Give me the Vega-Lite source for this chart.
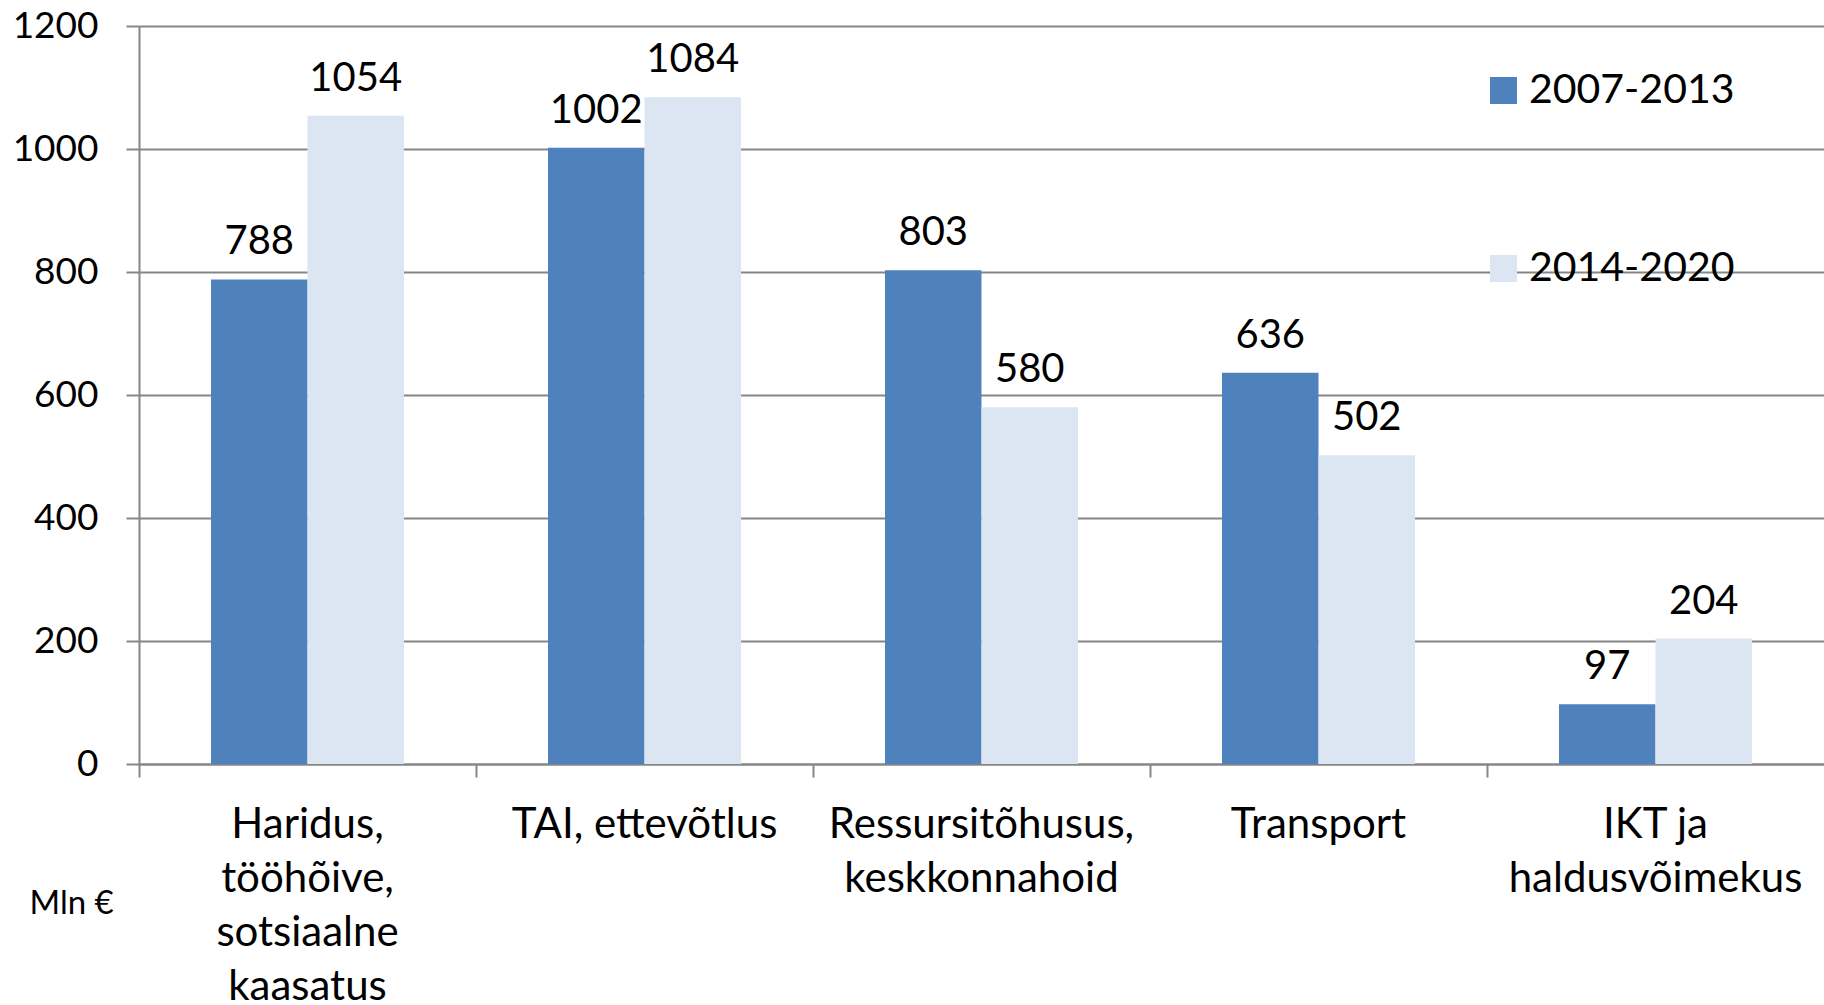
{
  "$schema": "https://vega.github.io/schema/vega-lite/v6.json",
  "width": 1685,
  "height": 738,
  "autosize": {"type": "none"},
  "padding": {"left": 139, "top": 26, "right": 0, "bottom": 241},
  "background": "white",
  "config": {
    "font": "Lato",
    "view": {"stroke": null}
  },
  "data": {
    "values": [
      {"cat": "Haridus,|tööhõive,|sotsiaalne|kaasatus", "period": "2007-2013", "value": 788},
      {"cat": "Haridus,|tööhõive,|sotsiaalne|kaasatus", "period": "2014-2020", "value": 1054},
      {"cat": "TAI, ettevõtlus", "period": "2007-2013", "value": 1002},
      {"cat": "TAI, ettevõtlus", "period": "2014-2020", "value": 1084},
      {"cat": "Ressursitõhusus,|keskkonnahoid", "period": "2007-2013", "value": 803},
      {"cat": "Ressursitõhusus,|keskkonnahoid", "period": "2014-2020", "value": 580},
      {"cat": "Transport", "period": "2007-2013", "value": 636},
      {"cat": "Transport", "period": "2014-2020", "value": 502},
      {"cat": "IKT ja|haldusvõimekus", "period": "2007-2013", "value": 97},
      {"cat": "IKT ja|haldusvõimekus", "period": "2014-2020", "value": 204}
    ]
  },
  "encoding": {
    "x": {
      "field": "cat",
      "type": "nominal",
      "sort": null,
      "scale": {"paddingInner": 0, "paddingOuter": 0},
      "axis": {
        "title": null,
        "labelExpr": "split(datum.label, '|')",
        "labelAngle": 0,
        "labelFont": "Lato",
        "labelFontSize": 42,
        "labelColor": "black",
        "labelLineHeight": 54,
        "labelLimit": 0,
        "labelPadding": 27,
        "bandPosition": 0,
        "tickSize": 13,
        "tickColor": "#868686",
        "tickWidth": 2,
        "domainColor": "#868686",
        "domainWidth": 2,
        "grid": false
      }
    },
    "xOffset": {"field": "period", "type": "nominal", "scale": {"paddingInner": 0, "paddingOuter": 0.746}},
    "y": {
      "field": "value",
      "type": "quantitative",
      "scale": {"domain": [0, 1200], "nice": false},
      "axis": {
        "title": "Mln €",
        "titleAngle": 0,
        "titleX": -110,
        "titleY": 887,
        "titleAlign": "left",
        "titleBaseline": "alphabetic",
        "titleFont": "Lato",
        "titleFontSize": 33,
        "titleFontWeight": "normal",
        "titleColor": "black",
        "values": [0, 200, 400, 600, 800, 1000, 1200],
        "format": "d",
        "labelFont": "Lato",
        "labelFontSize": 37,
        "labelColor": "black",
        "labelPadding": 28,
        "tickSize": 13,
        "tickColor": "#868686",
        "tickWidth": 2,
        "domainColor": "#868686",
        "domainWidth": 2,
        "grid": true,
        "gridColor": "#868686",
        "gridWidth": 2
      }
    }
  },
  "layer": [
    {
      "mark": {"type": "bar"},
      "encoding": {
        "color": {
          "field": "period",
          "type": "nominal",
          "scale": {"domain": ["2007-2013", "2014-2020"], "range": ["#4F81BD", "#DCE6F2"]},
          "legend": {
            "title": null,
            "orient": "none",
            "legendX": 1344,
            "legendY": 44,
            "symbolType": "square",
            "symbolSize": 729,
            "symbolStrokeWidth": 0,
            "symbolOpacity": 1,
            "labelFont": "Lato",
            "labelFontSize": 41,
            "labelColor": "black",
            "labelOffset": 5,
            "labelLimit": 0,
            "rowPadding": 136,
            "padding": 0
          }
        }
      }
    },
    {
      "mark": {"type": "text", "baseline": "alphabetic", "dy": -25, "fontSize": 40, "font": "Lato", "color": "black"},
      "encoding": {
        "text": {"field": "value", "type": "quantitative"}
      }
    }
  ]
}
